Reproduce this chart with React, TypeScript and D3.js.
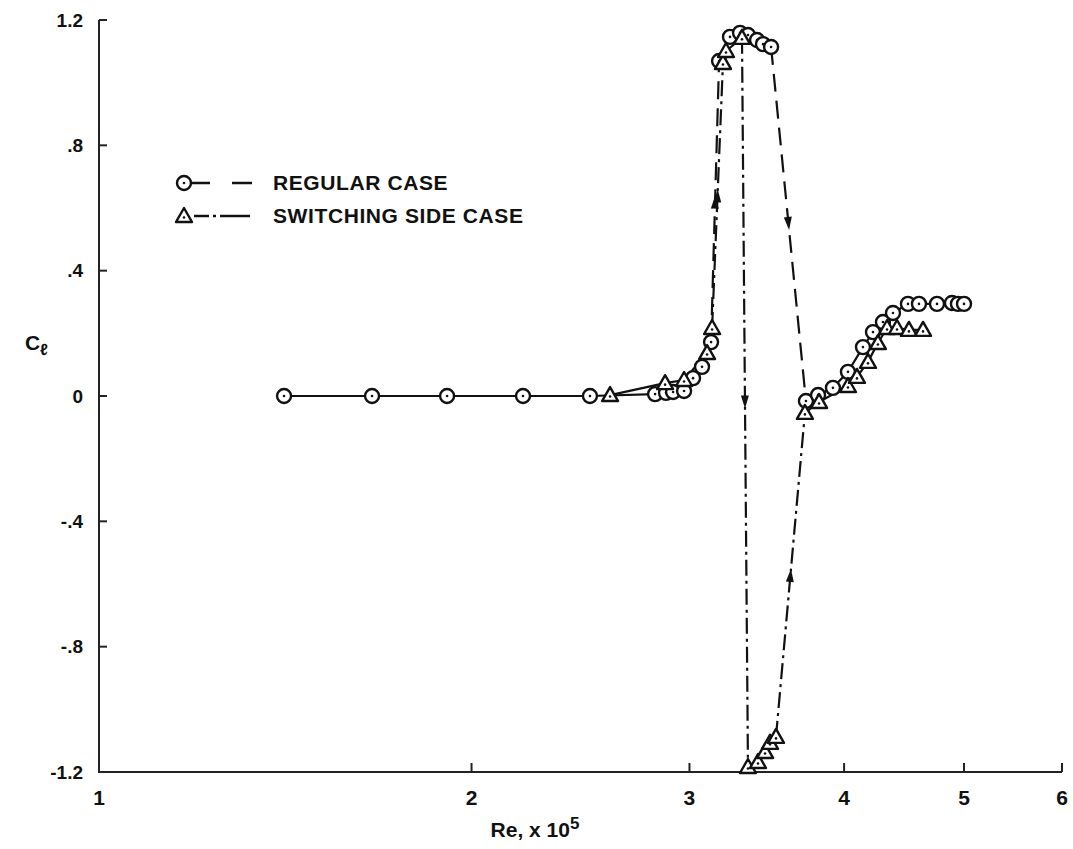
import * as React from "react";
import * as d3 from "d3";

// Re x 10^5 and Cl
const regularRe = [1.411, 1.662, 1.911, 2.201, 2.493, 2.814, 2.872, 2.91, 2.97, 3.02, 3.071, 3.123,
  3.17, 3.235, 3.296, 3.345, 3.402, 3.44, 3.492,
  3.726, 3.811, 3.918, 4.029, 4.143, 4.221, 4.3, 4.381, 4.505, 4.598, 4.755, 4.889, 4.944, 5.0];
const regularCl = [0, 0, 0, 0, 0, 0.006, 0.01, 0.013, 0.016, 0.057, 0.093, 0.172,
  1.069, 1.146, 1.159, 1.152, 1.136, 1.123, 1.114,
  -0.016, 0.003, 0.026, 0.077, 0.156, 0.204, 0.236, 0.265, 0.294, 0.294, 0.294, 0.297, 0.294, 0.294];

const switchRe = [2.588, 2.867, 2.97, 3.1, 3.129, 3.193, 3.211, 3.308,
  3.345, 3.408, 3.453, 3.485, 3.524,
  3.719, 3.818, 4.029, 4.097, 4.182, 4.26, 4.333, 4.414, 4.513, 4.633];
const switchCl = [0.003, 0.041, 0.051, 0.137, 0.217, 1.063, 1.101, 1.143,
  -1.184, -1.168, -1.136, -1.107, -1.088,
  -0.054, -0.019, 0.032, 0.061, 0.109, 0.169, 0.217, 0.217, 0.211, 0.211];

const xTicks = [1, 2, 3, 4, 5, 6];
const yTicks = [1.2, 0.8, 0.4, 0, -0.4, -0.8, -1.2];
const yTickLabels = ["1.2", ".8", ".4", "0", "-.4", "-.8", "-1.2"];

const legendLabels = ["REGULAR CASE", "SWITCHING SIDE CASE"];

const W = 1073;
const H = 849;
const margin = { top: 20, right: 11, bottom: 77, left: 99 };

const x = d3.scaleLog().domain([1, 6]).range([margin.left, W - margin.right]);
const y = d3.scaleLinear().domain([-1.2, 1.2]).range([H - margin.bottom, margin.top]);

const INK = "#111";

type Pt = { re: number; cl: number };

const toPts = (re: number[], cl: number[]): Pt[] => re.map((r, i) => ({ re: r, cl: cl[i] }));

// split the series into plain segments and "jump" segments (the hysteresis jumps)
function segments(pts: Pt[]) {
  const plain: Pt[][] = [];
  const jumps: [Pt, Pt][] = [];
  let cur: Pt[] = [pts[0]];
  for (let i = 1; i < pts.length; i++) {
    if (Math.abs(pts[i].cl - pts[i - 1].cl) > 0.5) {
      plain.push(cur);
      jumps.push([pts[i - 1], pts[i]]);
      cur = [pts[i]];
    } else {
      cur.push(pts[i]);
    }
  }
  plain.push(cur);
  return { plain, jumps };
}

const line = d3
  .line<Pt>()
  .x((d) => x(d.re))
  .y((d) => y(d.cl));

function Arrow({ a, b }: { a: Pt; b: Pt }) {
  const x1 = x(a.re), y1 = y(a.cl), x2 = x(b.re), y2 = y(b.cl);
  const mx = (x1 + x2) / 2, my = (y1 + y2) / 2;
  const ang = (Math.atan2(y2 - y1, x2 - x1) * 180) / Math.PI;
  return (
    <path
      d="M6,0 L-7,-4 L-7,4 Z"
      fill={INK}
      transform={`translate(${mx},${my}) rotate(${ang})`}
    />
  );
}

function Circle({ cx, cy }: { cx: number; cy: number }) {
  return (
    <g>
      <circle cx={cx} cy={cy} r={7} fill="#fff" stroke={INK} strokeWidth={2.4} />
      <circle cx={cx} cy={cy} r={1.3} fill={INK} />
    </g>
  );
}

function Tri({ cx, cy }: { cx: number; cy: number }) {
  const p = `M${cx},${cy - 8} L${cx + 8},${cy + 6} L${cx - 8},${cy + 6} Z`;
  return (
    <g>
      <path d={p} fill="#fff" stroke={INK} strokeWidth={2.4} strokeLinejoin="round" />
      <circle cx={cx} cy={cy + 1.5} r={1.3} fill={INK} />
    </g>
  );
}

export default function App() {
  const reg = toPts(regularRe, regularCl);
  const sw = toPts(switchRe, switchCl);
  const regSeg = segments(reg);
  const swSeg = segments(sw);
  const bold = "'Liberation Sans', Arial, Helvetica, sans-serif";
  const narrow = "'Liberation Sans Narrow', 'Liberation Sans', Arial, sans-serif";
  const x0 = margin.left;
  const x1 = W - margin.right;
  const y0 = H - margin.bottom;

  return (
    <svg
      width={W}
      height={H}
      style={{ position: "absolute", left: 0, top: 0, background: "#fff" }}
    >
      {/* axes */}
      <g stroke="#222" strokeWidth={2} fill="none">
        <path d={`M${x0},${margin.top} V${y0} H${x1}`} />
        {yTicks.map((t) => (
          <path key={t} d={`M${x0},${y(t)} h8`} />
        ))}
        {xTicks.slice(1).map((t) => (
          <path key={t} d={`M${x(t)},${y0} v-9`} />
        ))}
      </g>
      <g fontFamily={bold} fontWeight="bold" fontSize={19} fill={INK} textAnchor="end">
        {yTicks.map((t, i) => (
          <text key={t} x={x0 - 16} y={y(t)} dy="0.35em">
            {yTickLabels[i]}
          </text>
        ))}
      </g>
      <g fontFamily={narrow} fontWeight="bold" fontSize={21} fill={INK} textAnchor="middle">
        {xTicks.map((t) => (
          <text key={t} x={x(t)} y={y0 + 26} dy="0.35em">
            {t}
          </text>
        ))}
        <text x={535} y={y0 + 65}>
          Re, x 10
          <tspan dy={-8} fontSize={17}>5</tspan>
        </text>
      </g>
      <text x={25} y={350} fontFamily={bold} fontWeight="bold" fontSize={21} fill={INK}>
        C<tspan dy={5} fontSize={16}>ℓ</tspan>
      </text>

      {/* series lines */}
      <g fill="none" stroke={INK} strokeWidth={2.2}>
        {regSeg.plain.map((s, i) => (
          <path key={"rp" + i} d={line(s) || ""} />
        ))}
        {swSeg.plain.map((s, i) => (
          <path key={"sp" + i} d={line(s) || ""} />
        ))}
        {regSeg.jumps.map((s, i) => (
          <path key={"rj" + i} d={line(s) || ""} strokeDasharray="18 9" />
        ))}
        {swSeg.jumps.map((s, i) => (
          <path key={"sj" + i} d={line(s) || ""} strokeDasharray="16 5 3 5" />
        ))}
      </g>
      {regSeg.jumps.map((s, i) => (
        <Arrow key={"ra" + i} a={s[0]} b={s[1]} />
      ))}
      {swSeg.jumps.map((s, i) => (
        <Arrow key={"sa" + i} a={s[0]} b={s[1]} />
      ))}

      {/* markers */}
      {reg.map((d, i) => (
        <Circle key={"c" + i} cx={x(d.re)} cy={y(d.cl)} />
      ))}
      {sw.map((d, i) => (
        <Tri key={"t" + i} cx={x(d.re)} cy={y(d.cl)} />
      ))}

      {/* legend */}
      <g>
        <path d="M192,183 H210 M232,183 H252" stroke={INK} strokeWidth={2.4} />
        <Circle cx={184} cy={183} />
        <path d="M194,216 H209 M213,216 H216 M220,216 H250" stroke={INK} strokeWidth={2.4} />
        <Tri cx={184} cy={216} />
        <g fontFamily={bold} fontWeight="bold" fontSize={21} fill={INK}>
          <text x={273} y={183} dy="0.35em" letterSpacing={0.6}>
            {legendLabels[0]}
          </text>
          <text x={273} y={216} dy="0.35em" letterSpacing={0.6}>
            {legendLabels[1]}
          </text>
        </g>
      </g>
    </svg>
  );
}
